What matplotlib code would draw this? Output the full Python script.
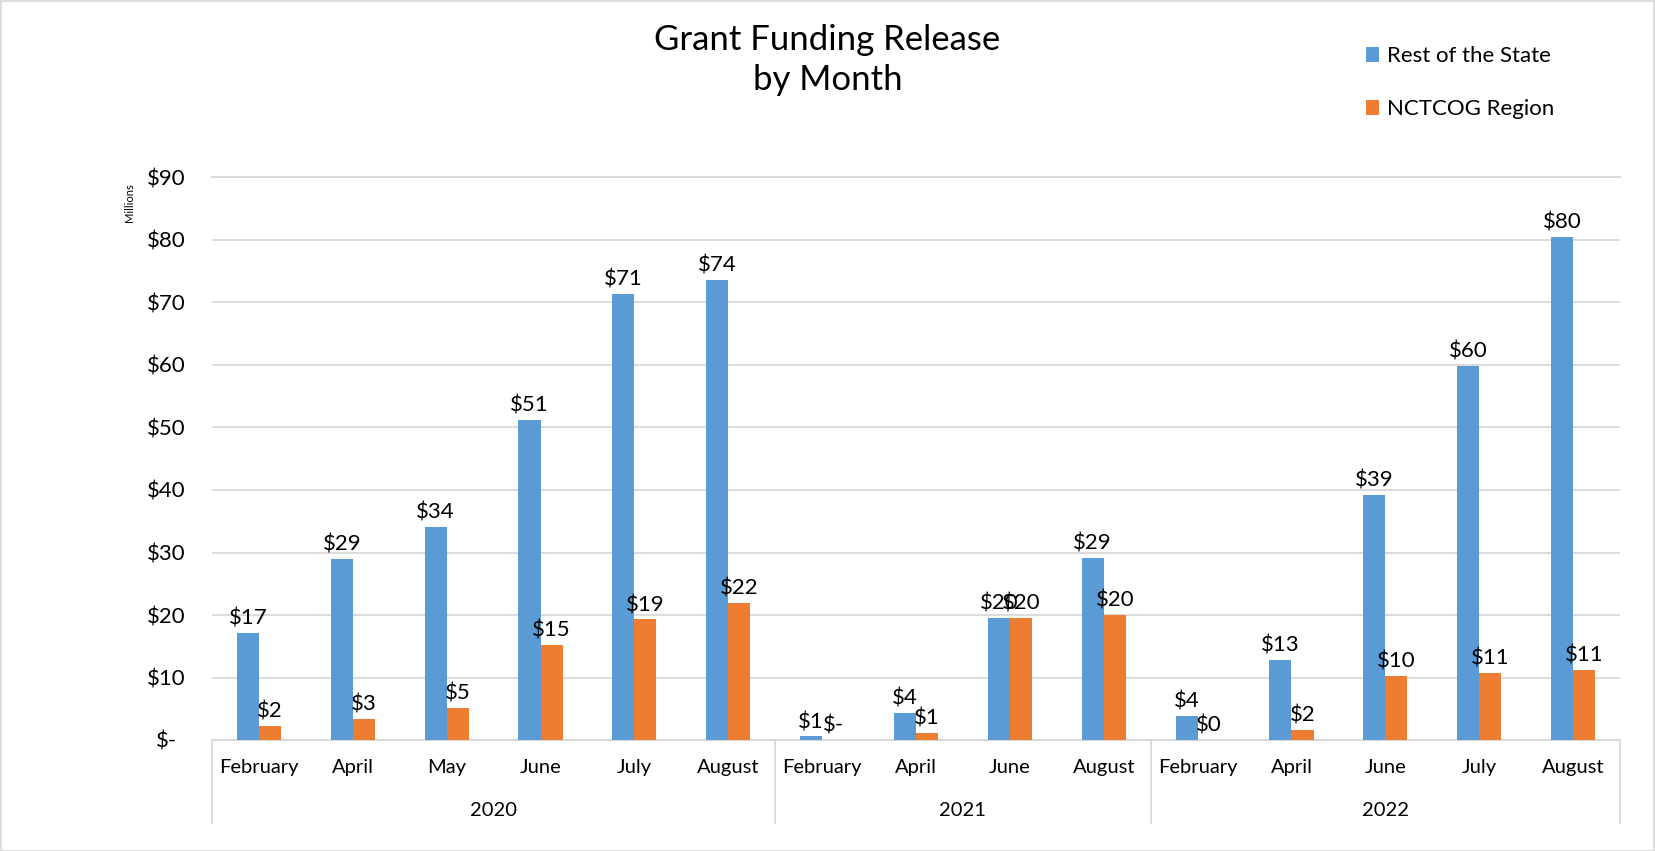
import matplotlib
matplotlib.use("Agg")
import matplotlib.pyplot as plt
import matplotlib.transforms as mtransforms
from matplotlib.patches import Patch, Rectangle
import numpy as np

plt.rcParams['font.family'] = ['Lato', 'DejaVu Sans']

# ---- data ----
years = ["2020", "2021", "2022"]
months_2020 = ["February", "April", "May", "June", "July", "August"]
months_2021 = ["February", "April", "June", "August"]
months_2022 = ["February", "April", "June", "July", "August"]
categories = months_2020 + months_2021 + months_2022
group_sizes = [len(months_2020), len(months_2021), len(months_2022)]

rest_of_state = [17.2, 29.0, 34.1, 51.2, 71.4, 73.6,
                 0.6, 4.4, 19.6, 29.2,
                 3.9, 12.8, 39.2, 59.9, 80.5]
nctcog_region = [2.3, 3.4, 5.1, 15.2, 19.3, 21.9,
                 0.0, 1.2, 19.6, 20.0,
                 0.05, 1.6, 10.3, 10.7, 11.2]
yticks = [0, 10, 20, 30, 40, 50, 60, 70, 80, 90]
series_names = ["Rest of the State", "NCTCOG Region"]

BLUE = "#5B9BD5"
ORANGE = "#ED7D31"
GRID = "#D9D9D9"

W, H = 1655, 851
fig = plt.figure(figsize=(W / 100, H / 100), dpi=100)
ax = fig.add_axes([212 / W, 1 - 740 / H, (1620 - 212) / W, (740 - 177.5) / H])

x = np.arange(len(categories))
bw = 0.235
b1 = ax.bar(x - bw / 2, rest_of_state, bw, color=BLUE, zorder=3)
b2 = ax.bar(x + bw / 2, nctcog_region, bw, color=ORANGE, zorder=3)


def fmt(v):
    return "$-" if v == 0 else "${:.0f}".format(v)


for bars, vals in ((b1, rest_of_state), (b2, nctcog_region)):
    for r, v in zip(bars, vals):
        ax.annotate(fmt(v), (r.get_x() + r.get_width() / 2, v),
                    xytext=(0, 3), textcoords="offset points",
                    ha="center", va="bottom", fontsize=16, color="#000000",
                    zorder=4)

ax.set_xlim(-0.5, len(categories) - 0.5)
ax.set_ylim(0, 90)
ax.set_yticks(yticks)
ax.set_yticklabels([fmt(v) for v in yticks], fontsize=16)
for lab in ax.get_yticklabels():
    lab.set_horizontalalignment("center")
ax.tick_params(axis="y", length=0, pad=33)
ax.set_xticks(x)
ax.set_xticklabels(categories, fontsize=14.5)
for lab in ax.get_xticklabels():
    lab.set_verticalalignment("center")
ax.tick_params(axis="x", length=0, pad=20)

ax.grid(axis="y", color=GRID, linewidth=1.3, zorder=0)
for s in ("left", "right"):
    ax.spines[s].set_visible(False)
ax.spines["top"].set_color(GRID)
ax.spines["top"].set_linewidth(1.3)
ax.spines["bottom"].set_color(GRID)
ax.spines["bottom"].set_linewidth(1.5)

# multi-level category axis
trans = mtransforms.blended_transform_factory(ax.transData, ax.transAxes)
bounds = np.concatenate([[0], np.cumsum(group_sizes)]) - 0.5
for b in bounds:
    ax.plot([b, b], [0, -83 / 562.5], transform=trans, color=GRID,
            linewidth=1.3, clip_on=False)
for i, yr in enumerate(years):
    c = (bounds[i] + bounds[i + 1]) / 2
    ax.text(c, -70 / 562.5, yr, transform=trans, ha="center", va="center",
            fontsize=14.5)

# axis unit label
fig.text(130 / W, 1 - 203 / H, "Millions", rotation=90, ha="center",
         va="center", fontsize=8)

# title
fig.text(0.5, 1 - 60 / H, "Grant Funding Release\nby Month", ha="center",
         va="center", fontsize=25, linespacing=1.3)

# legend
handles = [Patch(facecolor=BLUE), Patch(facecolor=ORANGE)]
fig.legend(handles, series_names, loc="upper left",
           bbox_to_anchor=(1366 / W, 1 - 46 / H), frameon=False,
           fontsize=16, handlelength=0.6, handleheight=0.65,
           handletextpad=0.35, labelspacing=1.5, borderpad=0,
           borderaxespad=0)

# chart border
fig.patches.append(Rectangle((0.5 / W, 0.5 / H), 1 - 1.5 / W, 1 - 1.5 / H,
                             transform=fig.transFigure, fill=False,
                             edgecolor=GRID, linewidth=1.3))

fig.savefig("out.png", dpi=100, facecolor="white")
